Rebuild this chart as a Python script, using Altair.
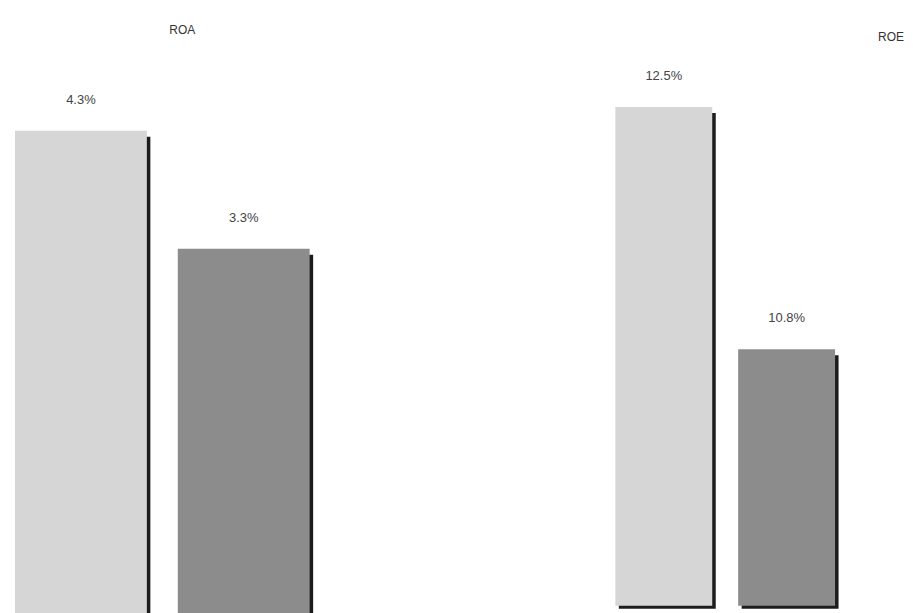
import altair as alt
import pandas as pd

series = ["Series 1", "Series 2"]
roa_values = [4.3, 3.3]
roe_values = [12.5, 10.8]
roa_labels = ["4.3%", "3.3%"]
roe_labels = ["12.5%", "10.8%"]

LIGHT = "#d6d6d6"
DARK = "#8c8c8c"
SHADOW = "#1c1c1c"
FONT = "Liberation Sans"


def panel(values, labels, title, dom, base, width, height, pin, pout, tdx, tdy):
    df = pd.DataFrame({"series": series, "value": values, "label": labels})
    x = alt.X("series:N", sort=series, axis=None,
              scale=alt.Scale(paddingInner=pin, paddingOuter=pout))
    y = alt.Y("value:Q", axis=None, scale=alt.Scale(domain=dom, zero=False, nice=False))
    y2 = alt.datum(base)
    base_chart = alt.Chart(df)
    shadow = base_chart.mark_bar(color=SHADOW, xOffset=3.5, x2Offset=3.5, yOffset=6, y2Offset=3).encode(
        x=x, y=y, y2=y2)
    bars = base_chart.mark_bar().encode(
        x=x, y=y, y2=y2,
        color=alt.Color("series:N", legend=None,
                        scale=alt.Scale(domain=series, range=[LIGHT, DARK])))
    text = base_chart.mark_text(dy=-31, fontSize=13, font=FONT, color="#444444").encode(
        x=x, y=y, text="label:N")
    return alt.layer(shadow, bars, text).properties(
        width=width, height=height,
        title=alt.TitleParams(title, fontSize=12, font=FONT, fontWeight="normal",
                              color="#333333", offset=24, dx=tdx, dy=tdy))


p1 = panel(roa_values, roa_labels, "ROA", [0, 4.89], 0, 309, 577, 0.19, 0.043, 20, 0)
p2 = panel(roe_values, roe_labels, "ROE", [9.0, 12.82], 9.0, 248, 545, 0.211, 0.114, 166, 7)

chart = alt.hconcat(p1, p2, spacing=285).properties(
    padding={"left": 0, "top": 16, "right": 0, "bottom": 0},
    background="white"
).configure_view(strokeWidth=0, stroke=None)

chart.save("out.html", embed_options={"renderer": "svg", "actions": False})
